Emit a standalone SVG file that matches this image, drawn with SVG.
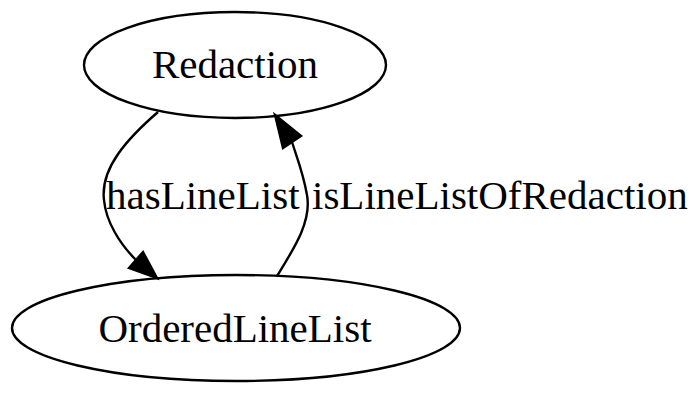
<svg xmlns="http://www.w3.org/2000/svg" width="700" height="394" viewBox="0 0 700 394">
  <style>
    .node ellipse { fill: none; stroke: #000; stroke-width: 2.4; }
    .edge path { fill: none; stroke: #000; stroke-width: 2.4; }
    .edge polygon { fill: #000; stroke: #000; stroke-width: 2.4; }
    text { font-family: "Liberation Serif", "Times New Roman", serif; font-size: 41px; fill: #000; }
  </style>
  <rect width="700" height="394" fill="#fff"/>
  <g id="edges">
    <g id="edge-hasLineList" class="edge">
      <path d="M158,112 C128,138 100,168 104,200 C106,222 120,244 136,260"/>
      <polygon points="129,268 143,252 157,278"/>
      <text x="106" y="209">hasLineList</text>
    </g>
    <g id="edge-isLineListOfRedaction" class="edge">
      <path d="M277,276 C293,250 312,222 307,195 C303,172 297,158 292,142"/>
      <polygon points="283,148 301,136 275,115"/>
      <text x="312" y="209">isLineListOfRedaction</text>
    </g>
  </g>
  <g id="node-Redaction" class="node">
    <ellipse cx="235" cy="65" rx="151" ry="53"/>
    <text x="235" y="78" text-anchor="middle">Redaction</text>
  </g>
  <g id="node-OrderedLineList" class="node">
    <ellipse cx="236" cy="328" rx="224" ry="53"/>
    <text x="235" y="342" text-anchor="middle">OrderedLineList</text>
  </g>
</svg>
